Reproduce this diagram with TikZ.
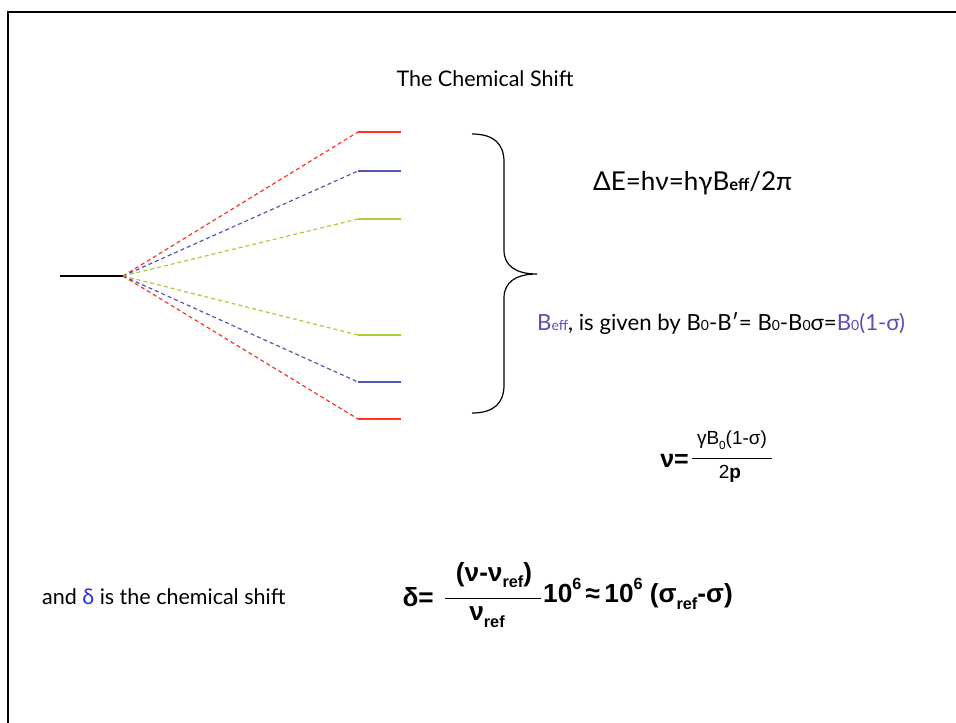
\documentclass[tikz,border=0pt]{standalone}
\usepackage{fontspec}
\setmainfont{Lato}
\newfontfamily\arialfont{Liberation Sans}
\usepackage{xcolor}
\definecolor{levelred}{HTML}{FF3320}
\definecolor{levelblue}{HTML}{5555B5}
\definecolor{levelgreen}{HTML}{A8CC3C}
\definecolor{textblue}{HTML}{5A4FB5}
\definecolor{deltablue}{HTML}{2B2BF0}
\newcommand{\sm}[1]{{\fontsize{14}{14}\selectfont #1}}
\newcommand{\lowsub}[1]{\raisebox{-0.25em}{\fontsize{0.62em}{1em}\selectfont #1}}
\newcommand{\highsup}[1]{\raisebox{0.5em}{\fontsize{0.62em}{1em}\selectfont #1}}

\begin{document}
\begin{tikzpicture}[x=1pt, y=-1pt,
    level/.style={line width=1.9pt},
    link/.style={line width=1.2pt, dash pattern=on 4pt off 3pt},
    txt/.style={inner sep=0pt, font=\fontsize{21.5}{25}\selectfont},
    eq/.style={inner sep=0pt, font=\arialfont\fontsize{19}{22}\selectfont},
    bigeq/.style={inner sep=0pt, font=\arialfont\bfseries\fontsize{26.2}{29}\selectfont}]
        \useasboundingbox (0,0) rectangle (956,723);

        % slide frame
        \coordinate (frametl) at (8,12);
        \draw[line width=2.2pt] (956,12) -- (frametl) -- (8,723);

        % title
        \node[txt] (title) at (485,79) {The Chemical Shift};

        % unsplit level and fan point
        \coordinate (base) at (60,276);
        \coordinate (fan) at (123,276);
        \draw[line width=1.6pt] (base) -- (fan);

        % split levels
        \foreach \name/\ypos/\col in {redup/132/levelred, blueup/171/levelblue, greenup/219/levelgreen,
                                     greendn/335/levelgreen, bluedn/382/levelblue, reddn/419/levelred}{
            \coordinate (\name) at (358,\ypos);
            \draw[link, \col] (fan) -- (\name);
            \draw[level, \col] (\name) -- ++(43,0);
        }

        % curly brace
        \coordinate (bracetop) at (472,134);
        \coordinate (bracetip) at (537,274);
        \coordinate (bracebot) at (472,413);
        \draw[line width=1.2pt] (bracetop) .. controls (494,134) and (504,144) .. (504,162)
            -- (504,250) .. controls (504,266) and (516,274) .. (bracetip)
            .. controls (516,274) and (504,282) .. (504,298)
            -- (504,385) .. controls (504,403) and (494,413) .. (bracebot);

        % equations
        \node[txt, anchor=west, font=\fontsize{26}{29}\selectfont] (energy) at (593,183)
            {ΔE=hν=hγB{\bfseries\fontsize{16.5}{16}\selectfont eff}/2π};
        \node[txt, anchor=west, font=\fontsize{22.2}{26}\selectfont] (beff) at (537,324)
            {\textcolor{textblue}{B\sm{eff}}, is given by B\sm{0}-B′= B\sm{0}-B\sm{0}σ=\textcolor{textblue}{B\sm{0}(1-σ)}};

        \node[eq, anchor=east, font=\arialfont\bfseries\fontsize{25}{28}\selectfont] (nulhs) at (689,461) {ν=};
        \node[eq] (nunum) at (732,440) {γB\lowsub{0}(1-σ)};
        \node[eq] (nuden) at (730,474) {2\textbf{p}};
        \draw[line width=0.9pt] (692,458) -- (772,458);

        \node[txt, anchor=west] (andtext) at (42,597) {and \textcolor{deltablue}{δ} is the chemical shift};

        \node[bigeq, anchor=east] (deltalhs) at (434,597) {δ=};
        \node[bigeq] (deltanum) at (494,575) {(ν-ν\lowsub{ref})};
        \node[bigeq] (deltaden) at (487,617) {ν\lowsub{ref}};
        \draw[line width=1pt] (445,598) -- (541,598);
        \node[bigeq, anchor=west] (deltarhs) at (543,594)
            {10\highsup{6}\,≈\,10\highsup{6} (σ\lowsub{ref}-σ)};
\end{tikzpicture}
\end{document}
